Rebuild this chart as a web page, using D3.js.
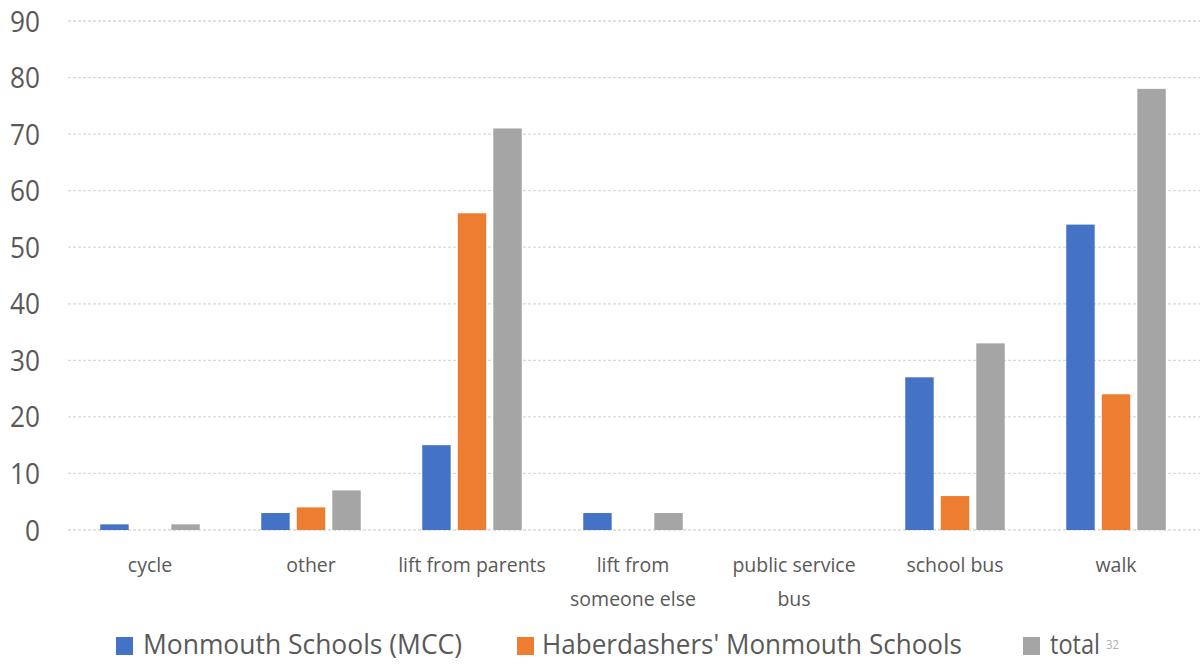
<!DOCTYPE html>
<html><head><meta charset="utf-8">
<script src="https://cdn.jsdelivr.net/npm/d3@7"></script>
<style>body{margin:0;background:#fff}svg{display:block}</style>
</head><body><svg id="c" width="1200" height="664"></svg>
<script>
const categories = [["cycle"],["other"],["lift from parents"],["lift from","someone else"],["public service","bus"],["school bus"],["walk"]];
const seriesNames = ["Monmouth Schools (MCC)","Haberdashers' Monmouth Schools","total"];
const mcc = [1,3,15,3,0,27,54];
const haber = [0,4,56,0,0,6,24];
const total = [1,7,71,3,0,33,78];
const yTicks = [0,10,20,30,40,50,60,70,80,90];
const colors = ["#4472c4","#ed7d31","#a5a5a5"];

(function(){
const svg = d3.select("#c");
const pLeft = 69.5, pRight = 1196.5, pTop = 21, pBottom = 530;
const x = d3.scaleBand().domain(d3.range(categories.length)).range([pLeft,pRight]).paddingInner(0).paddingOuter(0);
const y = d3.scaleLinear().domain([0,90]).range([pBottom,pTop]);
const x1 = d3.scaleBand().domain([0,1,2]).range([0,99.5]).paddingInner(0.2);
const groupOff = (x.bandwidth()-99.5)/2;
const font = "Open Sans, sans-serif";

svg.append("g").selectAll("line").data(yTicks).join("line")
  .attr("x1",68).attr("x2",1200).attr("y1",d=>y(d)).attr("y2",d=>y(d))
  .attr("stroke","#d9d9d9").attr("stroke-width",1.3).attr("stroke-dasharray","3,2");

svg.append("g").selectAll("text").data(yTicks).join("text")
  .attr("x",40).attr("y",d=>y(d)+10.5).attr("text-anchor","end")
  .attr("font-family",font).attr("font-size",30).attr("fill","#595959")
  .attr("textLength",d=>String(d).length*15).attr("lengthAdjust","spacingAndGlyphs")
  .text(d=>d);

const series = [mcc,haber,total];
series.forEach((vals,si)=>{
  svg.append("g").selectAll("rect").data(vals).join("rect")
    .attr("x",(d,i)=>x(i)+groupOff+x1(si))
    .attr("width",x1.bandwidth())
    .attr("y",d=>y(d)).attr("height",d=>pBottom-y(d))
    .attr("fill",colors[si]);
});

const cg = svg.append("g");
categories.forEach((lines,i)=>{
  const t = cg.append("text").attr("text-anchor","middle")
    .attr("font-family",font).attr("font-size",19.5).attr("fill","#595959");
  lines.forEach((l,j)=>{
    t.append("tspan").attr("x",x(i)+x.bandwidth()/2).attr("y",572+j*34).text(l);
  });
});

const legX = [116,517,1023];
const legTX = [143,542,1050];
const legW = [319,420,50];
const lg = svg.append("g");
seriesNames.forEach((n,i)=>{
  lg.append("rect").attr("x",legX[i]).attr("y",637).attr("width",17).attr("height",18).attr("fill",colors[i]);
  lg.append("text").attr("x",legTX[i]).attr("y",654)
    .attr("font-family",font).attr("font-size",27).attr("fill","#595959")
    .attr("textLength",legW[i]).attr("lengthAdjust","spacingAndGlyphs").text(n);
});
lg.append("text").attr("x",1106).attr("y",649).attr("font-family",font)
  .attr("font-size",12).attr("fill","#b0b0b0")
  .attr("textLength",13).attr("lengthAdjust","spacingAndGlyphs").text("32");
})();
</script></body></html>
